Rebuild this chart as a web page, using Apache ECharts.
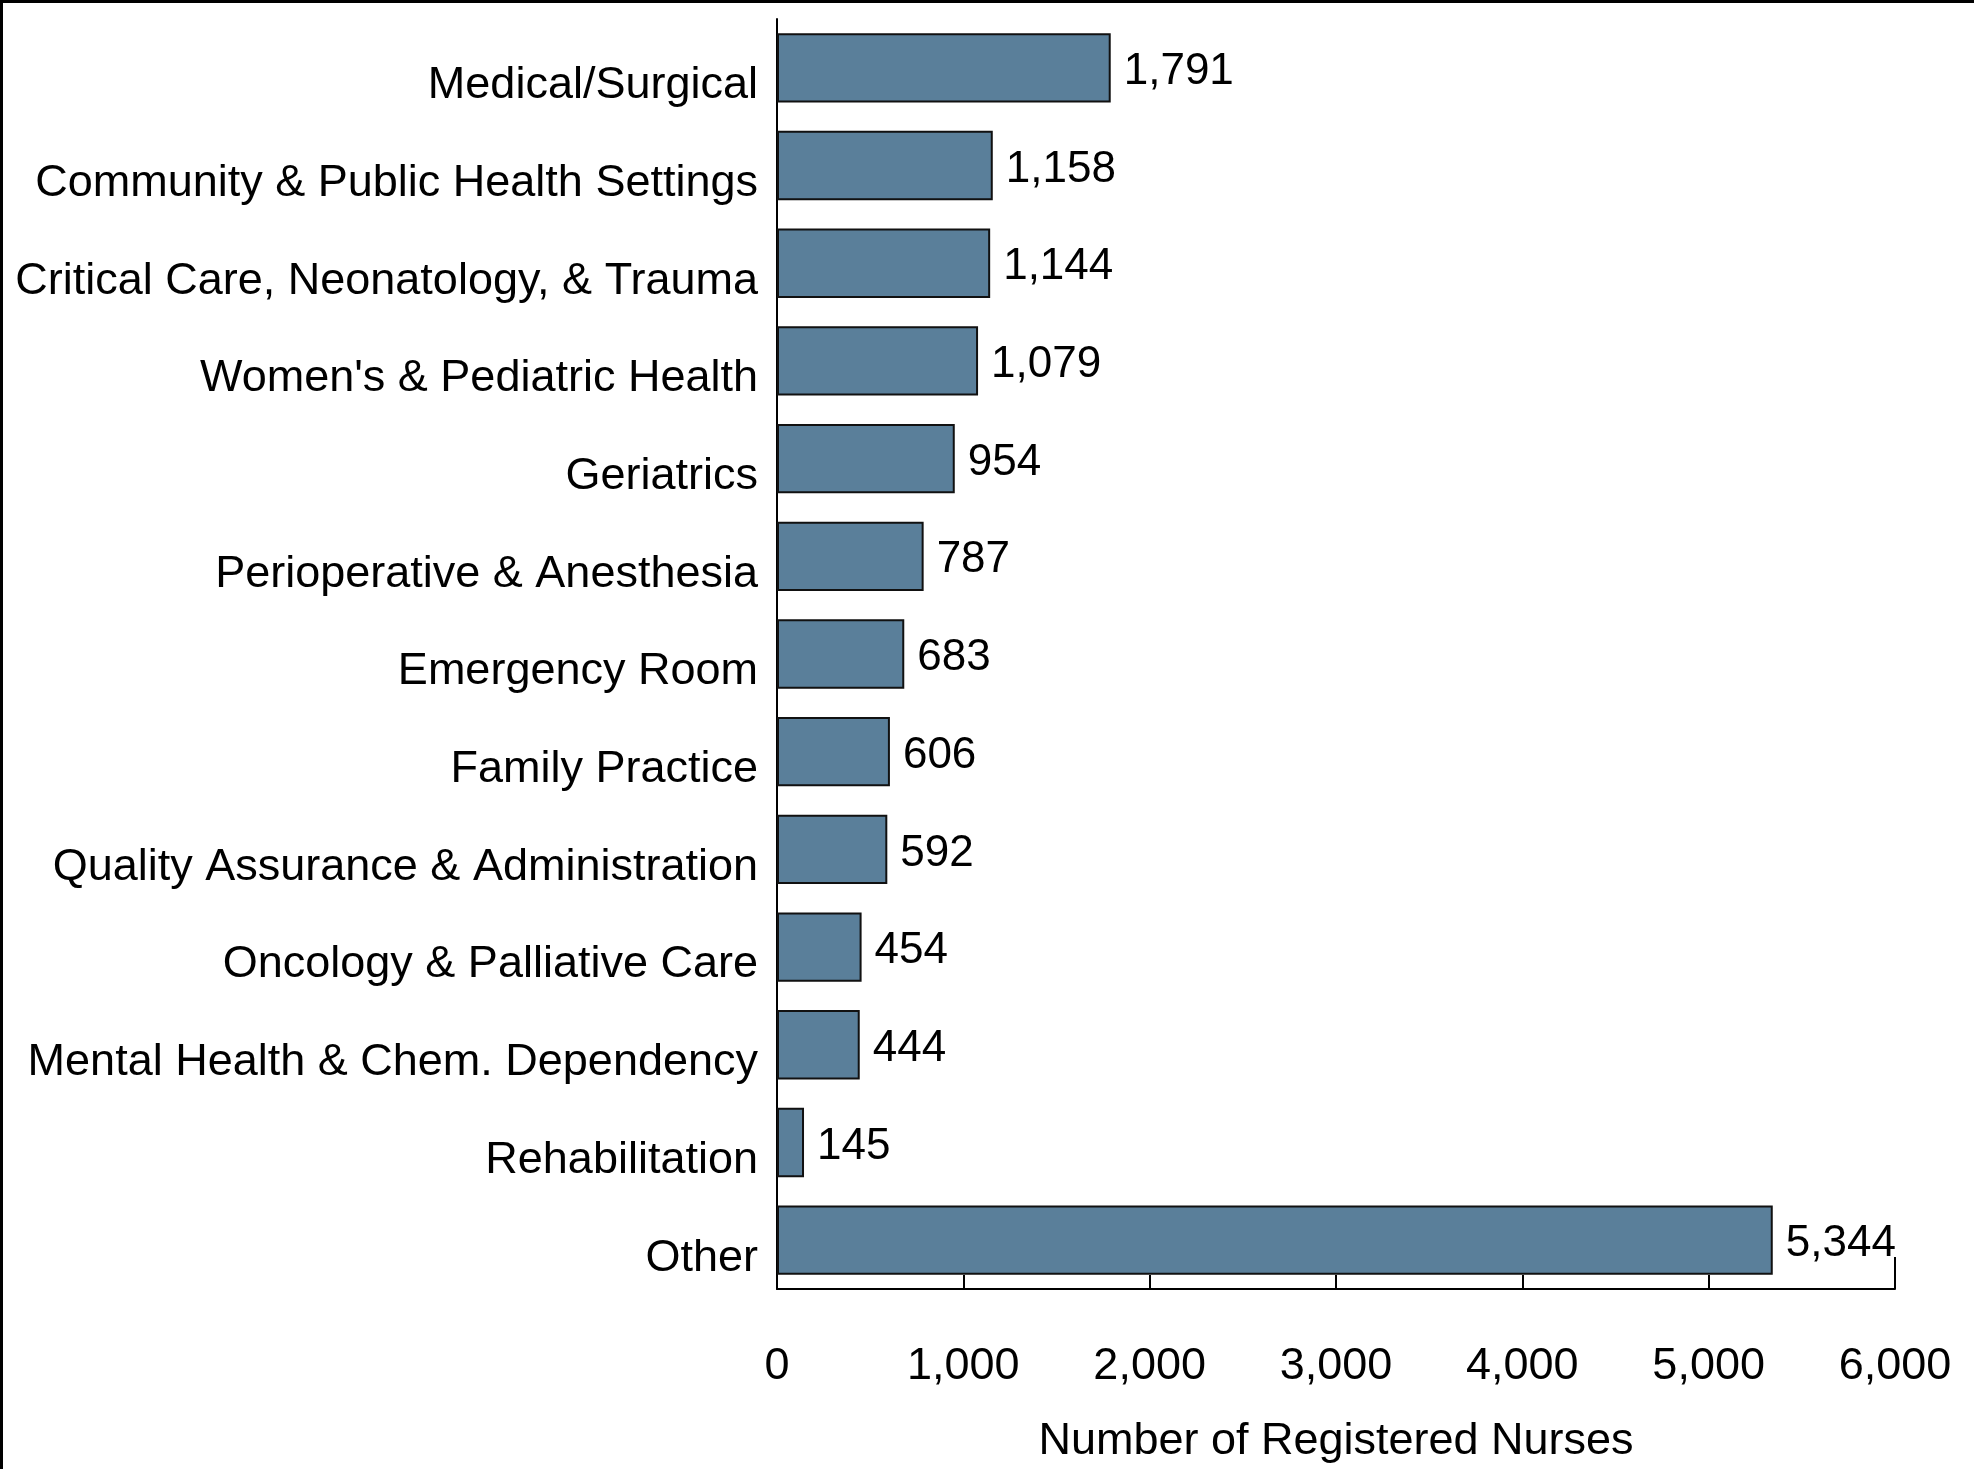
<!DOCTYPE html>
<html>
<head>
<meta charset="utf-8">
<script src="https://cdn.jsdelivr.net/npm/echarts@6/dist/echarts.min.js"></script>
<style>
  html, body { margin: 0; padding: 0; background: #fff; overflow: hidden; }
  #chart { width: 1974px; height: 1469px; }
  #frame { position: absolute; left: 0; top: 0; width: 1974px; height: 1469px; box-sizing: border-box;
           border-left: 3px solid #000; border-top: 3px solid #000; pointer-events: none; }
</style>
</head>
<body>
<div id="chart"></div>
<div id="frame"></div>
<script>
const categories = [
  "Medical/Surgical",
  "Community & Public Health Settings",
  "Critical Care, Neonatology, & Trauma",
  "Women's & Pediatric Health",
  "Geriatrics",
  "Perioperative & Anesthesia",
  "Emergency Room",
  "Family Practice",
  "Quality Assurance & Administration",
  "Oncology & Palliative Care",
  "Mental Health & Chem. Dependency",
  "Rehabilitation",
  "Other"
];
const nurses = [1791, 1158, 1144, 1079, 954, 787, 683, 606, 592, 454, 444, 145, 5344];
const xTicks = [0, 1000, 2000, 3000, 4000, 5000, 6000];
const xAxisTitle = "Number of Registered Nurses";

const fmt = v => Number(v).toLocaleString('en-US');
const FONT = '"Liberation Sans", Arial, sans-serif';

const chart = echarts.init(document.getElementById('chart'), null, { renderer: 'canvas' });
chart.setOption({
  backgroundColor: '#ffffff',
  animation: false,
  textStyle: { fontFamily: FONT },
  grid: { left: 777, right: 79, top: 19, bottom: 172, containLabel: false },
  xAxis: {
    type: 'value',
    min: xTicks[0],
    max: xTicks[xTicks.length - 1],
    interval: xTicks[1] - xTicks[0],
    name: xAxisTitle,
    nameLocation: 'middle',
    nameGap: 130,
    nameTextStyle: { fontSize: 45, color: '#000', fontFamily: FONT },
    axisLine: { show: true, lineStyle: { color: '#000', width: 2 } },
    axisTick: { show: true, inside: true, length: 14, lineStyle: { color: '#000', width: 2 } },
    axisLabel: { fontSize: 45, color: '#000', margin: 55, fontFamily: FONT, formatter: fmt },
    splitLine: { show: false }
  },
  yAxis: {
    type: 'category',
    data: categories,
    inverse: true,
    axisLine: { show: true, lineStyle: { color: '#000', width: 2 } },
    axisTick: { show: false },
    axisLabel: { fontSize: 45, color: '#000', margin: 19, fontFamily: FONT, verticalAlign: 'top', lineHeight: 36 }
  },
  series: [{
    type: 'bar',
    data: nurses,
    barCategoryGap: '29%',
    itemStyle: { color: '#5a7f9a', borderColor: '#111', borderWidth: 2 },
    label: {
      show: true,
      position: 'right',
      distance: 13,
      offset: [0, 4],
      fontSize: 44,
      color: '#000',
      fontFamily: FONT,
      formatter: p => fmt(p.value)
    }
  }]
});

// taller end tick at the axis maximum (decoration derived from the axis scale)
const endX = chart.convertToPixel({ xAxisIndex: 0 }, xTicks[xTicks.length - 1]);
const gridRect = chart.getModel().getComponent('grid').coordinateSystem.getRect();
const axisY = gridRect.y + gridRect.height;
chart.setOption({
  graphic: [{
    type: 'line',
    shape: { x1: endX, y1: axisY - 32, x2: endX, y2: axisY },
    style: { stroke: '#000', lineWidth: 2 },
    silent: true
  }]
});
</script>
</body>
</html>
